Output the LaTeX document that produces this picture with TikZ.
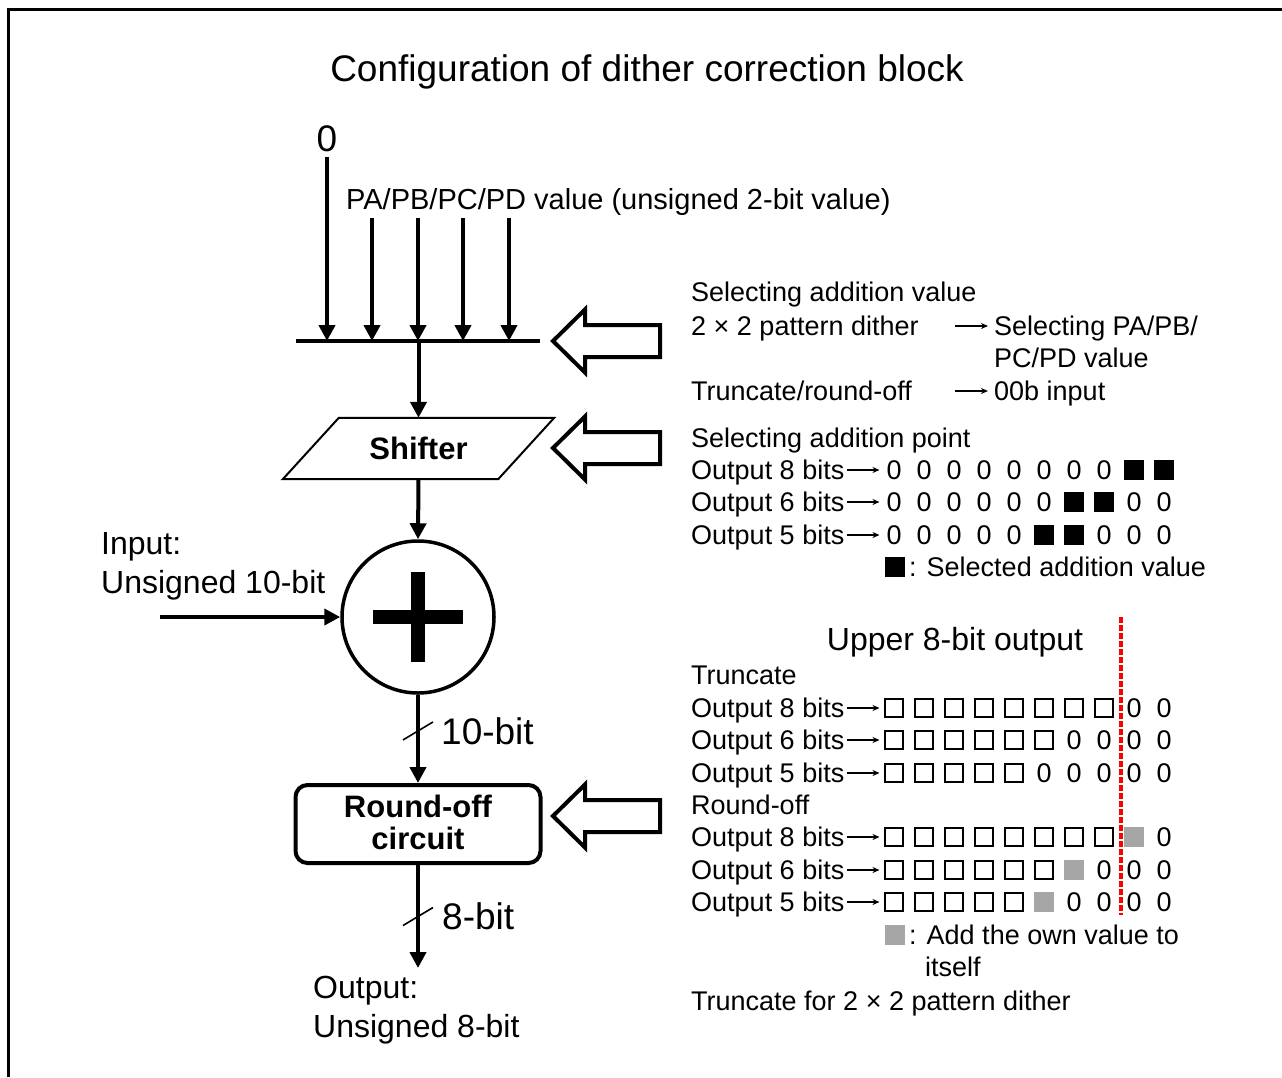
\documentclass[tikz,border=0pt]{standalone}
\usepackage{fontspec}
\setmainfont{Liberation Sans}
\usetikzlibrary{arrows.meta}
\definecolor{dgray}{RGB}{166,166,166}
\definecolor{dred}{RGB}{255,0,0}

\begin{document}
\begin{tikzpicture}[
  x=1pt, y=-1pt,
  txt/.style={font=\fontsize{27}{32}\selectfont, inner sep=0pt, text height=19.3pt, text depth=0pt, anchor=west},
  mid/.style={font=\fontsize{29}{35}\selectfont, inner sep=0pt, text height=20.8pt, text depth=0pt, anchor=west},
  big/.style={font=\fontsize{32}{39}\selectfont, inner sep=0pt, text height=22.9pt, text depth=0pt, anchor=west},
  huge/.style={font=\fontsize{37}{44}\selectfont, inner sep=0pt, text height=26.5pt, text depth=0pt},
  blk/.style={font=\fontsize{31}{32}\selectfont\bfseries, inner sep=0pt, align=center},
  sig/.style={line width=4pt, -{Triangle[length=16pt, width=16pt]}},
  rowarr/.style={line width=1.2pt, -{Stealth[length=7pt, width=6pt]}},
  hollow/.style={draw, line width=4pt, line join=miter},
  slash/.style={line width=1.6pt},
  cz/.style={txt, anchor=center, node contents={0}},
  cw/.style={draw, line width=1.6pt, minimum size=18pt, inner sep=0pt, node contents={}},
  cb/.style={fill=black, minimum size=20pt, inner sep=0pt, node contents={}},
  cg/.style={fill=dgray, minimum size=20pt, inner sep=0pt, node contents={}},
]
  \useasboundingbox (0,0) rectangle (1282,1077);
  \draw[line width=3pt] (8.5,1077) -- (8.5,9.5) -- (1282,9.5);

  % one row of bits: #1 y, #2 label, #3 cells (z = 0, w = empty, b = black, g = gray)
  \newcommand{\bitrow}[3]{%
    \node[txt] (o#1) at (691,#1) {#2};
    \draw[rowarr] ([xshift=3pt]o#1.east) -- ++(32,0);
    \foreach \cell [count=\i from 0] in {#3}
      \path (894+30*\i,#1) node[c\cell, name=q#1-\i];}
  % hollow arrow pointing left: #1 name, #2 y of the tip
  \newcommand{\hollowarrow}[2]{%
    \coordinate (#1) at (553,#2);
    \draw[hollow] (#1) -- ++(32,-31.5) -- ++(0,15.5) -- ++(75,0) -- ++(0,32)
      -- ++(-75,0) -- ++(0,15.5) -- cycle;}

  \node[huge] (title) at (647,68) {Configuration of dither correction block};

  % selector inputs
  \node[huge] (zero) at (327,138) {0};
  \node[mid] (pa) at (346,199) {PA/PB/PC/PD value (unsigned 2-bit value)};
  \coordinate (barL) at (296,341);
  \coordinate (barR) at (540,341);
  \draw[line width=4pt] (barL) -- (barR);
  \draw[sig] ([yshift=-6pt]zero.south) -- (zero |- barL);
  \foreach \x in {372,418,463,509}{
    \coordinate (pa\x) at (\x,218);
    \draw[sig] (pa\x) -- (pa\x |- barL);}

  % shifter
  \node[blk, minimum width=215pt, minimum height=61pt] (shift) at (418.5,448.5) {Shifter};
  \draw[line width=2pt] ([xshift=28pt]shift.north west) -- ([xshift=28pt]shift.north east)
    -- ([xshift=-28pt]shift.south east) -- ([xshift=-28pt]shift.south west) -- cycle;
  \draw[sig] (barL -| shift) -- (shift.north);

  % adder
  \node[draw, circle, line width=3.5pt, minimum size=152pt] (add) at (418,617) {};
  \draw[line width=14pt] ([xshift=-45pt]add.center) -- ([xshift=45pt]add.center);
  \draw[line width=14pt] ([yshift=-45pt]add.center) -- ([yshift=45pt]add.center);
  \draw[sig] (shift.south) -- (add.north);
  \node[big] (in1) at (101,543) {Input:};
  \node[big] (in2) at (101,582) {Unsigned 10-bit};
  \coordinate (inp) at (160,617);
  \draw[sig] (inp) -- (add.west);

  % round-off circuit
  \node[blk, draw, rounded corners=12pt, line width=4pt, minimum width=245pt, minimum height=78pt]
    (rnd) at (418,824) {\raisebox{3pt}{Round-off}\\\raisebox{3pt}{circuit}};
  \draw[sig] (add.south) -- (rnd.north) coordinate[pos=0.41] (s10);
  \draw[slash] ([shift={(-15,9)}]s10) -- ([shift={(15,-9)}]s10);
  \node[huge, anchor=west] (w10) at ([xshift=23pt]s10) {10-bit};

  \coordinate (outp) at (418,968);
  \draw[sig] (rnd.south) -- (outp) coordinate[pos=0.5] (s8);
  \draw[slash] ([shift={(-15,9)}]s8) -- ([shift={(15,-9)}]s8);
  \node[huge, anchor=west] (w8) at ([xshift=24pt]s8) {8-bit};
  \node[big] (out1) at (313,987) {Output:};
  \node[big] (out2) at (313,1026) {Unsigned 8-bit};

  % control arrows
  \hollowarrow{ha1}{341}
  \hollowarrow{ha2}{448}
  \hollowarrow{ha3}{816}

  % selecting addition value
  \node[txt] (sav) at (691,292) {Selecting addition value};
  \node[txt] (pd) at (691,326) {2 × 2 pattern dither};
  \node[txt] (spa) at (994,326) {Selecting PA/PB/};
  \node[txt] (pcpd) at (994,358) {PC/PD value};
  \node[txt] (tro) at (691,391) {Truncate/round-off};
  \node[txt] (oob) at (994,391) {00b input};
  \draw[rowarr] ([xshift=-39pt]spa.west) -- ([xshift=-6pt]spa.west);
  \draw[rowarr] ([xshift=-39pt]oob.west) -- ([xshift=-6pt]oob.west);

  % selecting addition point
  \node[txt] (sap) at (691,438) {Selecting addition point};
  \bitrow{470}{Output 8 bits}{z,z,z,z,z,z,z,z,b,b}
  \bitrow{502}{Output 6 bits}{z,z,z,z,z,z,b,b,z,z}
  \bitrow{535}{Output 5 bits}{z,z,z,z,z,b,b,z,z,z}
  \path (895,567) node[cb, name=keyb];
  \node[txt] (keybt) at (909,567) {: Selected addition value};

  % upper 8-bit output
  \node[big, anchor=center] (upper) at (955,639) {Upper 8-bit output};
  \node[txt] (trc) at (691,675) {Truncate};
  \bitrow{708}{Output 8 bits}{w,w,w,w,w,w,w,w,z,z}
  \bitrow{740}{Output 6 bits}{w,w,w,w,w,w,z,z,z,z}
  \bitrow{773}{Output 5 bits}{w,w,w,w,w,z,z,z,z,z}
  \node[txt] (rof) at (691,805) {Round-off};
  \bitrow{837}{Output 8 bits}{w,w,w,w,w,w,w,w,g,z}
  \bitrow{870}{Output 6 bits}{w,w,w,w,w,w,g,z,z,z}
  \bitrow{902}{Output 5 bits}{w,w,w,w,w,g,z,z,z,z}
  \draw[dred, line width=3.5pt, dash pattern=on 6pt off 2pt] (1121,617) -- (1121,915);
  \path (895,935) node[cg, name=keyg];
  \node[txt] (keygt) at (909,935) {: Add the own value to};
  \node[txt] (keygt2) at (925,967) {itself};
  \node[txt] (tpd) at (691,1001) {Truncate for 2 × 2 pattern dither};
\end{tikzpicture}
\end{document}
